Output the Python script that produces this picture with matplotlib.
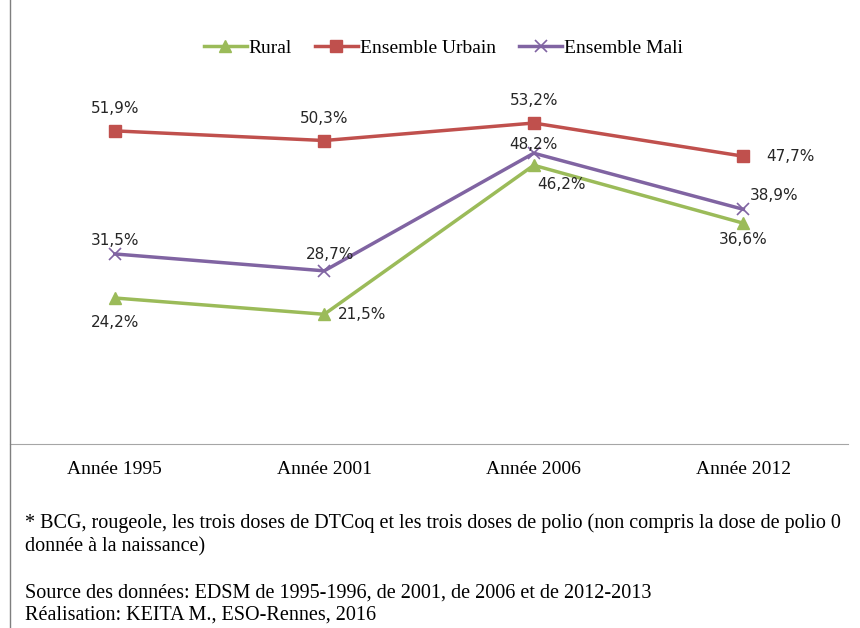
import matplotlib.pyplot as plt
from matplotlib.lines import Line2D

# data
annees = ['Année 1995', 'Année 2001', 'Année 2006', 'Année 2012']
rural = [24.2, 21.5, 46.2, 36.6]
urbain = [51.9, 50.3, 53.2, 47.7]
mali = [31.5, 28.7, 48.2, 38.9]

fig = plt.figure(figsize=(8.6, 6.28), dpi=100)
ax = fig.add_axes([10/860, 1-444/628, 838/860, 362/628])
x = range(len(annees))

ax.plot(x, rural, color='#9BBB59', lw=2.5, marker='^', ms=9, label='Rural')
ax.plot(x, urbain, color='#C0504D', lw=2.5, marker='s', ms=9, label='Ensemble Urbain')
ax.plot(x, mali, color='#8064A2', lw=2.5, marker='x', ms=9, mew=1.2, label='Ensemble Mali')

ax.set_xlim(-0.5, 3.5)
ax.set_ylim(0, 60)
for s in ['top', 'right', 'left']:
    ax.spines[s].set_visible(False)
ax.spines['bottom'].set_color('#a6a6a6')
ax.set_yticks([])
ax.set_xticks(list(x))
ax.set_xticklabels(annees, family='Liberation Serif', fontsize=14)
ax.tick_params(axis='x', length=0, pad=12)

def fmt(v):
    return f'{v:.1f}%'.replace('.', ',')

# label offsets (points)
off_r = [(0, -18), (27, 0), (20, -14), (0, -12)]
off_u = [(0, 16), (0, 16), (0, 16), (34, 0)]
off_m = [(0, 10), (4, 12), (0, 6), (22, 10)]
for i in x:
    for vals, offs in ((rural, off_r), (urbain, off_u), (mali, off_m)):
        ax.annotate(fmt(vals[i]), (i, vals[i]), xytext=offs[i], textcoords='offset points',
                    ha='center', va='center', fontsize=11, color='#262626',
                    family='DejaVu Sans')

ax.legend(loc='center', bbox_to_anchor=(0.517, 1 + 34/362),
          ncol=3, frameon=False, prop={'family': 'Liberation Serif', 'size': 14},
          handlelength=2.2, columnspacing=1.2, handletextpad=0.1)

# left border
fig.add_artist(Line2D([10/860, 10/860], [0, 1], color='#7f7f7f', lw=1))

note = ("* BCG, rougeole, les trois doses de DTCoq et les trois doses de polio (non compris la dose de polio 0\n"
        "donnée à la naissance)")
src = ("Source des données: EDSM de 1995-1996, de 2001, de 2006 et de 2012-2013\n"
       "Réalisation: KEITA M., ESO-Rennes, 2016")
fig.text(25/860, 1-513/628, note, family='Liberation Serif', fontsize=14.5, va='top', linespacing=1.3)
fig.text(25/860, 1-584/628, src, family='Liberation Serif', fontsize=14.5, va='top', linespacing=1.2)

fig.savefig('out.png', dpi=100)
